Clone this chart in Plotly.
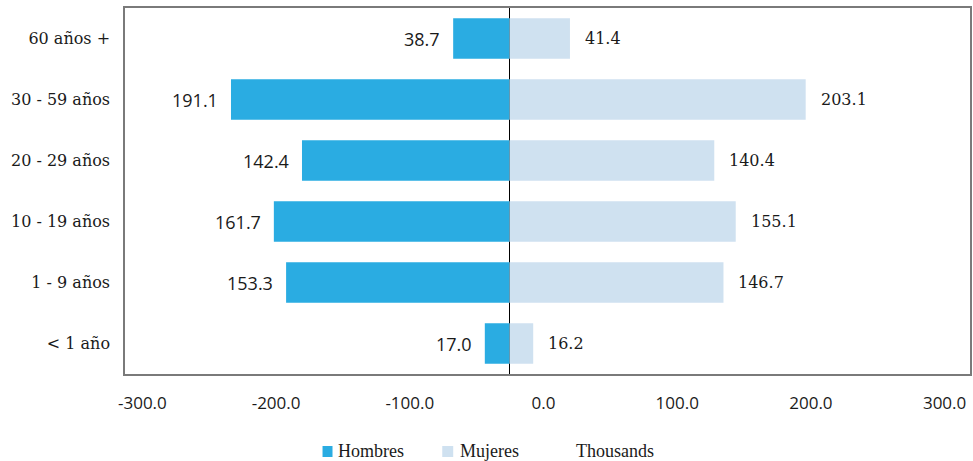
import plotly.graph_objects as go

categories = ["< 1 año", "1 - 9 años", "10 - 19 años", "20 - 29 años", "30 - 59 años", "60 años +"]
hombres = [17.0, 153.3, 161.7, 142.4, 191.1, 38.7]
mujeres = [16.2, 146.7, 155.1, 140.4, 203.1, 41.4]
tick_vals = [-300, -200, -100, 0, 100, 200, 300]
tick_text = [f"{v:.1f}" for v in tick_vals]
legend_names = ["Hombres", "Mujeres", "Thousands"]

C_H = "#2aace2"
C_M = "#cfe1f0"
FRAME = "#7a7a7a"
TXT = "#1a1a1a"

W, H = 973, 461
ML, MR, MT, MB = 125, 1, 8, 87
PW, PH = W - ML - MR, H - MT - MB


def px_x(p):
    return (p - ML) / PW


def px_y(p):
    return (H - MB - p) / PH


fig = go.Figure()
fig.add_trace(go.Bar(y=categories, x=[-v for v in hombres], orientation="h",
                     name=legend_names[0], marker=dict(color=C_H, line=dict(width=0)),
                     hoverinfo="skip", showlegend=False))
fig.add_trace(go.Bar(y=categories, x=mujeres, orientation="h",
                     name=legend_names[1], marker=dict(color=C_M, line=dict(width=0)),
                     hoverinfo="skip", showlegend=False))
# carrier trace for the labelled value axis
fig.add_trace(go.Scatter(x=tick_vals, y=[categories[0]] * len(tick_vals), xaxis="x2",
                         mode="none", showlegend=False, hoverinfo="skip"))

annotations = []
for c, v in zip(categories, hombres):
    annotations.append(dict(x=-v, y=c, xref="x", yref="y", text=f"{v:.1f}",
                            showarrow=False, xanchor="right", xshift=-11,
                            font=dict(family="Open Sans", size=18, color=TXT)))
for c, v in zip(categories, mujeres):
    annotations.append(dict(x=v, y=c, xref="x", yref="y", text=f"{v:.1f}",
                            showarrow=False, xanchor="left", xshift=13,
                            font=dict(family="DejaVu Serif", size=16, color=TXT)))

# legend (drawn manually so it does not push the bottom margin)
legend_text_x = [337, 459, 575]
legend_swatch = [(323, 333, C_H), (443, 454, C_M)]
shapes = []
for x0, x1, col in legend_swatch:
    shapes.append(dict(type="rect", xref="paper", yref="paper",
                       x0=px_x(x0), x1=px_x(x1), y0=px_y(457), y1=px_y(446),
                       fillcolor=col, line=dict(width=0)))
for name, tx in zip(legend_names, legend_text_x):
    annotations.append(dict(x=px_x(tx), y=px_y(451), xref="paper", yref="paper",
                            text=name, showarrow=False, xanchor="left", yanchor="middle",
                            font=dict(family="Liberation Serif", size=18, color=TXT)))

fig.update_layout(
    width=W, height=H,
    margin=dict(l=ML, r=MR, t=MT, b=MB),
    paper_bgcolor="white", plot_bgcolor="white",
    barmode="overlay", bargap=0.34,
    showlegend=False,
    xaxis=dict(range=[-263.8, 315.8], showticklabels=False, showgrid=False,
               zeroline=True, zerolinecolor="#000000", zerolinewidth=1,
               showline=False, ticks=""),
    xaxis2=dict(range=[-313, 319], overlaying="x", side="bottom", anchor="y",
                tickvals=tick_vals, ticktext=tick_text, showgrid=False, zeroline=False,
                showline=True, mirror=True, linecolor=FRAME, linewidth=1.5, ticks="",
                ticklabelstandoff=13,
                tickfont=dict(family="Open Sans", size=17, color=TXT)),
    yaxis=dict(showline=True, mirror=True, linecolor=FRAME, linewidth=1.5,
               showgrid=False, zeroline=False, ticks="", ticklabelstandoff=10,
               tickfont=dict(family="DejaVu Serif", size=16, color=TXT)),
    annotations=annotations,
    shapes=shapes,
)

fig.write_html("out.html", config={"displayModeBar": False},
               post_script="document.body.style.margin='0';")
